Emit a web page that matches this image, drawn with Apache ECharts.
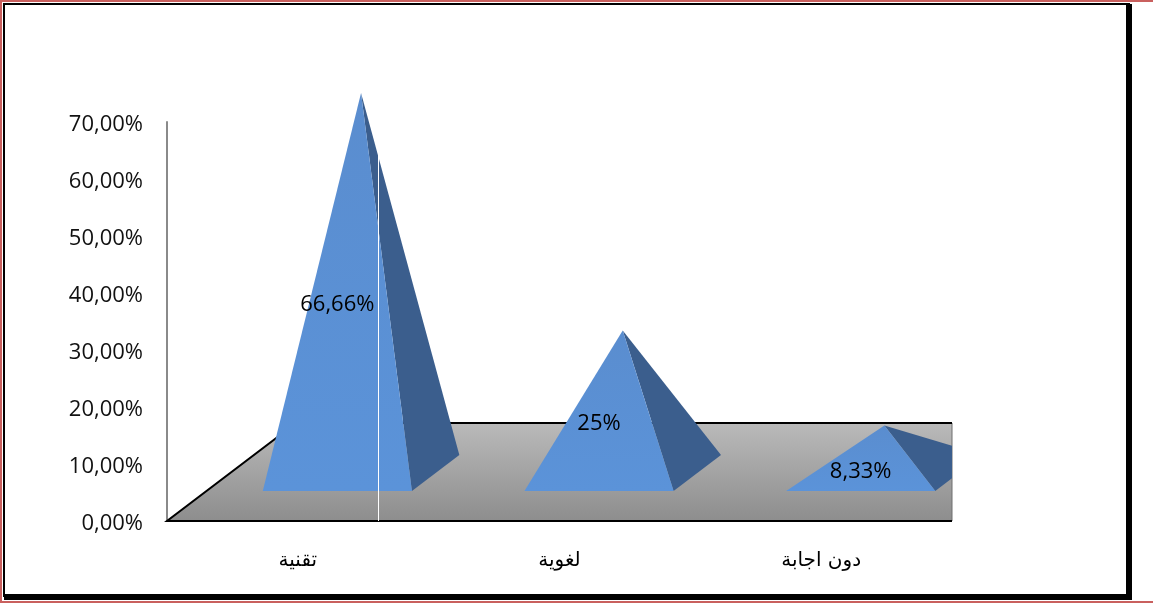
<!DOCTYPE html>
<html>
<head>
<meta charset="utf-8">
<script src="https://cdn.jsdelivr.net/npm/echarts@6/dist/echarts.min.js"></script>
<style>
html,body{margin:0;padding:0;background:#fff;}
#chart{width:1153px;height:603px;}
</style>
</head>
<body>
<div id="chart"></div>
<script>
// ---- data ----
const categories = ['تقنية', 'لغوية', 'دون اجابة'];
const values = [66.66, 25, 8.33];
const valueLabels = ['66,66%', '25%', '8,33%'];
const yTicks = [0, 10, 20, 30, 40, 50, 60, 70];

// ---- 3D projection constants (oblique) ----
const SLOPE = 1.317;      // horizontal px per vertical px of depth
const FLOOR_DEPTH = 98;   // floor depth (vertical px)
const FRONT_D = 30;       // depth of pyramid front edge
const BACK_D = 66;        // depth of pyramid back edge
const CENTER_D = 48;      // depth of pyramid center (apex)
const HALF_W = 0.285;     // half base width as fraction of band
const LABEL_DY = 4;

const numFont = "'Open Sans', 'Liberation Sans', sans-serif";

function clipRight(pts, xmax) {
  const out = [];
  for (let i = 0; i < pts.length; i++) {
    const a = pts[i], b = pts[(i + 1) % pts.length];
    const ain = a[0] <= xmax, bin = b[0] <= xmax;
    if (ain) out.push(a);
    if (ain !== bin) {
      const t = (xmax - a[0]) / (b[0] - a[0]);
      out.push([xmax, a[1] + t * (b[1] - a[1])]);
    }
  }
  return out;
}

const chart = echarts.init(document.getElementById('chart'));
const option = {
  backgroundColor: '#fff',
  animation: false,
  grid: { left: 167, right: 201, top: 122, bottom: 82, containLabel: false },
  xAxis: {
    type: 'category',
    data: categories,
    axisLine: { show: false },
    axisTick: { show: false },
    axisLabel: { margin: 30, fontSize: 20, color: '#000', fontFamily: "'DejaVu Sans', sans-serif" }
  },
  yAxis: {
    type: 'value',
    min: yTicks[0],
    max: yTicks[yTicks.length - 1],
    interval: 10,
    axisLine: { show: true, lineStyle: { color: '#8a8a8a', width: 2 } },
    axisTick: { show: false },
    splitLine: { show: false },
    axisLabel: {
      margin: 24, fontSize: 22, color: '#111', fontFamily: numFont,
      verticalAlign: 'top', lineHeight: 6,
      formatter: v => v.toFixed(2).replace('.', ',') + '%'
    }
  },
  series: [
    {
      type: 'custom',
      name: 'floor',
      z: 1,
      data: [[0, 0]],
      encode: { x: 0, y: 1 },
      renderItem: function (params, api) {
        const cs = params.coordSys;
        const x0 = cs.x, xR = cs.x + cs.width, y0 = cs.y + cs.height;
        const yb = y0 - FLOOR_DEPTH, xb = x0 + FLOOR_DEPTH * SLOPE;
        return {
          type: 'group',
          children: [
            {
              type: 'polygon',
              shape: { points: [[x0, y0], [xb, yb], [xR, yb], [xR, y0]] },
              style: {
                fill: new echarts.graphic.LinearGradient(0, 0, 0, 1, [
                  { offset: 0, color: '#bababa' },
                  { offset: 1, color: '#8d8d8d' }
                ]),
                stroke: '#6f6f6f', lineWidth: 1
              }
            },
            {
              type: 'polyline',
              shape: { points: [[xR, yb], [xb, yb], [x0, y0], [xR, y0]] },
              style: { stroke: '#000', lineWidth: 2, fill: null }
            }
          ]
        };
      }
    },
    {
      type: 'custom',
      name: 'pyramids',
      z: 3,
      data: values.map((v, i) => [i, v]),
      encode: { x: 0, y: 1 },
      renderItem: function (params, api) {
        const cs = params.coordSys;
        const xmax = cs.x + cs.width;
        const i = api.value(0), v = api.value(1);
        const base = api.coord([i, 0]);
        const top = api.coord([i, v]);
        const mid = api.coord([i, v / 2]);
        const hw = api.size([1, 0])[0] * HALF_W;
        const fl = [base[0] - hw + FRONT_D * SLOPE, base[1] - FRONT_D];
        const fr = [base[0] + hw + FRONT_D * SLOPE, base[1] - FRONT_D];
        const br = [base[0] + hw + BACK_D * SLOPE, base[1] - BACK_D];
        const apex = [top[0] + CENTER_D * SLOPE, top[1] - CENTER_D];
        const front = clipRight([fl, fr, apex], xmax);
        const side = clipRight([fr, br, apex], xmax);
        return {
          type: 'group',
          children: [
            {
              type: 'polygon',
              shape: { points: side },
              style: { fill: '#3b5e8d' }
            },
            {
              type: 'polygon',
              shape: { points: front },
              style: {
                fill: new echarts.graphic.LinearGradient(0, 0, 0, 1, [
                  { offset: 0, color: '#5a8dcf' },
                  { offset: 1, color: '#5b93d9' }
                ])
              }
            },
            {
              type: 'text',
              style: {
                text: valueLabels[params.dataIndex],
                x: mid[0] + FRONT_D * SLOPE,
                y: mid[1] - FRONT_D + LABEL_DY,
                align: 'center',
                verticalAlign: 'middle',
                fontSize: 22,
                fontFamily: numFont,
                fill: '#000'
              }
            }
          ]
        };
      }
    }
  ],
  graphic: [
    { type: 'polyline', z: 100, shape: { points: [[1153, 1], [1, 1], [1, 602], [1153, 602]] },
      style: { fill: null, stroke: '#c9605e', lineWidth: 2 } },
    { type: 'rect', z: 101, shape: { x: 4, y: 4, width: 1125, height: 592 },
      style: { fill: null, stroke: '#000', lineWidth: 2 } },
    { type: 'rect', z: 101, shape: { x: 1126, y: 4, width: 6, height: 596 },
      style: { fill: '#000' } },
    { type: 'rect', z: 101, shape: { x: 4, y: 594, width: 1128, height: 6 },
      style: { fill: '#000' } },
    { type: 'line', z: 50, shape: { x1: 378.5, y1: 145, x2: 378.5, y2: 521 },
      style: { stroke: '#ffffff', lineWidth: 1 } }
  ]
};
chart.setOption(option);
</script>
</body>
</html>
